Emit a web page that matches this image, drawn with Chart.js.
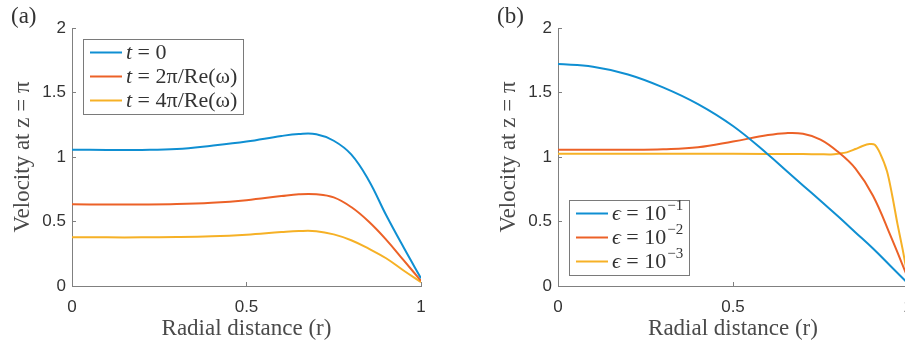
<!DOCTYPE html>
<html>
<head>
<meta charset="utf-8">
<script src="https://cdn.jsdelivr.net/npm/chart.js@4.4.1/dist/chart.umd.min.js"></script>
<style>
  html, body { margin: 0; padding: 0; background: #fff; overflow: hidden; width: 905px; height: 350px; }
  #left { position: absolute; left: 0; top: 0; }
  #right { position: absolute; left: 450px; top: 0; }
</style>
</head>
<body>
<canvas id="left" width="450" height="350"></canvas>
<canvas id="right" width="487" height="350"></canvas>
<script>
// radial positions
const rGrid = [0, 0.1, 0.2, 0.3, 0.4, 0.5, 0.6, 0.65, 0.7, 0.75, 0.8, 0.85, 0.9, 0.95, 1];
const rGridFine = [0, 0.2, 0.4, 0.6, 0.7, 0.75, 0.78, 0.8, 0.825, 0.85, 0.87, 0.89, 0.905, 0.92, 0.94, 0.955, 0.97, 0.985, 1];

// panel (a): different times
const velT0 = [1.057, 1.055, 1.055, 1.062, 1.088, 1.12, 1.163, 1.178, 1.176, 1.126, 1.02, 0.82, 0.55, 0.30, 0.06];
const velT2 = [0.633, 0.632, 0.632, 0.635, 0.645, 0.665, 0.697, 0.711, 0.711, 0.687, 0.612, 0.50, 0.36, 0.20, 0.04];
const velT4 = [0.377, 0.377, 0.377, 0.379, 0.385, 0.398, 0.418, 0.426, 0.425, 0.40, 0.355, 0.29, 0.215, 0.12, 0.03];

// panel (b): different epsilon
const velE1 = [1.72, 1.70, 1.64, 1.54, 1.41, 1.24, 1.02, 0.90, 0.78, 0.66, 0.54, 0.415, 0.29, 0.155, 0.02];
const velE2 = [1.057, 1.056, 1.056, 1.06, 1.075, 1.12, 1.17, 1.185, 1.18, 1.135, 1.04, 0.91, 0.70, 0.39, 0.06];
const velE3 = [1.025, 1.025, 1.025, 1.024, 1.023, 1.021, 1.02, 1.025, 1.036, 1.062, 1.085, 1.10, 1.095, 1.03, 0.89, 0.70, 0.48, 0.28, 0.06];

const labelsA = ['t = 0', 't = 2π/Re(ω)', 't = 4π/Re(ω)'];
const labelsB = ['ϵ = 10^−1', 'ϵ = 10^−2', 'ϵ = 10^−3'];
const xTicks = [0, 0.5, 1];
const yTicks = [0, 0.5, 1, 1.5, 2];

const blue = '#0f8fd2', red = '#ec6127', yellow = '#f6b126';
const serif = '"Liberation Serif", serif';
const sans = '"Liberation Sans", Arial, sans-serif';

function pts(xs, ys) {
    return xs.map((x, i) => ({x: x, y: ys[i]}));
}

function line(label, color, data, tension) {
    return {
        label: label,
        data: data,
        borderColor: color,
        backgroundColor: color,
        borderWidth: 2,
        pointRadius: 0,
        tension: tension,
        fill: false
    };
}

// split "var = rest^sup" into pieces with their fonts
function pieces(label) {
    let [main, sup] = label.split('^');
    let k = main.indexOf(' = ');
    let out = [
        {t: main.slice(0, k), f: 'italic 22px ' + serif, dy: 1},
        {t: main.slice(k), f: '22px ' + serif, dy: 1}
    ];
    if (sup) out.push({t: sup, f: '15px ' + serif, dy: -7, gap: 1});
    return out;
}

// MATLAB-like framed legend inside the axes
const boxLegend = {
    id: 'boxLegend',
    afterDatasetsDraw(chart, args, opts) {
        const ctx = chart.ctx;
        const area = chart.chartArea;
        const sets = chart.data.datasets;
        ctx.save();
        let widths = sets.map(d => pieces(d.label).reduce((s, p) => {
            ctx.font = p.f;
            return s + ctx.measureText(p.t).width + (p.gap || 0);
        }, 0));
        let w = 7 + 32 + 4 + Math.max(...widths) + 6;
        let h = 75;
        let x = area.left + 11;
        let y = opts.corner === 'top' ? area.top + 11 : area.bottom - 11 - h;
        ctx.fillStyle = '#fff';
        ctx.fillRect(x, y, w, h);
        ctx.strokeStyle = '#7a7a7a';
        ctx.lineWidth = 1;
        ctx.strokeRect(Math.round(x) + 0.5, Math.round(y) + 0.5, Math.round(w), h);
        sets.forEach((d, i) => {
            let cy = y + 13.5 + i * 24;
            ctx.strokeStyle = d.borderColor;
            ctx.lineWidth = 2;
            ctx.beginPath();
            ctx.moveTo(x + 7, cy);
            ctx.lineTo(x + 39, cy);
            ctx.stroke();
            ctx.fillStyle = '#333';
            ctx.textBaseline = 'middle';
            ctx.textAlign = 'left';
            let tx = x + 43;
            pieces(d.label).forEach(p => {
                ctx.font = p.f;
                tx += p.gap || 0;
                ctx.fillText(p.t, tx, cy + p.dy);
                tx += ctx.measureText(p.t).width;
            });
        });
        ctx.restore();
    }
};

const panelTag = {
    id: 'panelTag',
    afterDraw(chart, args, opts) {
        const ctx = chart.ctx;
        ctx.save();
        ctx.font = '23px ' + serif;
        ctx.fillStyle = '#333';
        ctx.textBaseline = 'middle';
        ctx.textAlign = 'left';
        ctx.fillText(opts.text, opts.x, 17);
        ctx.restore();
    }
};

function makeScales(yWidth) {
    return {
        x: {
            type: 'linear',
            min: 0,
            max: 1,
            afterBuildTicks: s => { s.ticks = xTicks.map(v => ({value: v})); },
            ticks: {color: '#333', font: {family: sans, size: 17}, padding: 15, maxRotation: 0,
                callback: v => String(v)},
            grid: {drawOnChartArea: false, drawTicks: true, tickLength: -4, color: '#808080'},
            border: {color: '#808080'},
            title: {display: true, text: 'Radial distance (r)', color: '#4a4a4a',
                font: {family: serif, size: 23}, padding: {top: 0, bottom: 7}},
            afterFit: s => { s.height = 64; }
        },
        y: {
            type: 'linear',
            min: 0,
            max: 2,
            afterBuildTicks: s => { s.ticks = yTicks.map(v => ({value: v})); },
            ticks: {color: '#333', font: {family: sans, size: 17}, padding: 10,
                callback: v => String(v)},
            grid: {drawOnChartArea: false, drawTicks: true, tickLength: -4, color: '#808080'},
            border: {color: '#808080'},
            title: {display: true, text: 'Velocity at z = π', color: '#4a4a4a',
                font: {family: serif, size: 23}, padding: {top: 9, bottom: 0}},
            afterFit: s => { s.width = yWidth; }
        }
    };
}

new Chart(document.getElementById('left'), {
    type: 'line',
    data: {
        datasets: [
            line(labelsA[0], blue, pts(rGrid, velT0), 0.4),
            line(labelsA[1], red, pts(rGrid, velT2), 0.4),
            line(labelsA[2], yellow, pts(rGrid, velT4), 0.4)
        ]
    },
    options: {
        responsive: false,
        animation: false,
        devicePixelRatio: 1,
        layout: {padding: {left: 0, top: 28, right: 29, bottom: 0}},
        scales: makeScales(72),
        plugins: {
            legend: {display: false},
            tooltip: {enabled: false},
            boxLegend: {corner: 'top'},
            panelTag: {text: '(a)', x: 11}
        }
    },
    plugins: [boxLegend, panelTag]
});

new Chart(document.getElementById('right'), {
    type: 'line',
    data: {
        datasets: [
            line(labelsB[0], blue, pts(rGrid, velE1), 0.4),
            line(labelsB[1], red, pts(rGrid, velE2), 0.4),
            line(labelsB[2], yellow, pts(rGridFine, velE3), 0.3)
        ]
    },
    options: {
        responsive: false,
        animation: false,
        devicePixelRatio: 1,
        layout: {padding: {left: 36, top: 28, right: 29, bottom: 0}},
        scales: makeScales(72),
        plugins: {
            legend: {display: false},
            tooltip: {enabled: false},
            boxLegend: {corner: 'bottom'},
            panelTag: {text: '(b)', x: 47}
        }
    },
    plugins: [boxLegend, panelTag]
});
</script>
</body>
</html>
